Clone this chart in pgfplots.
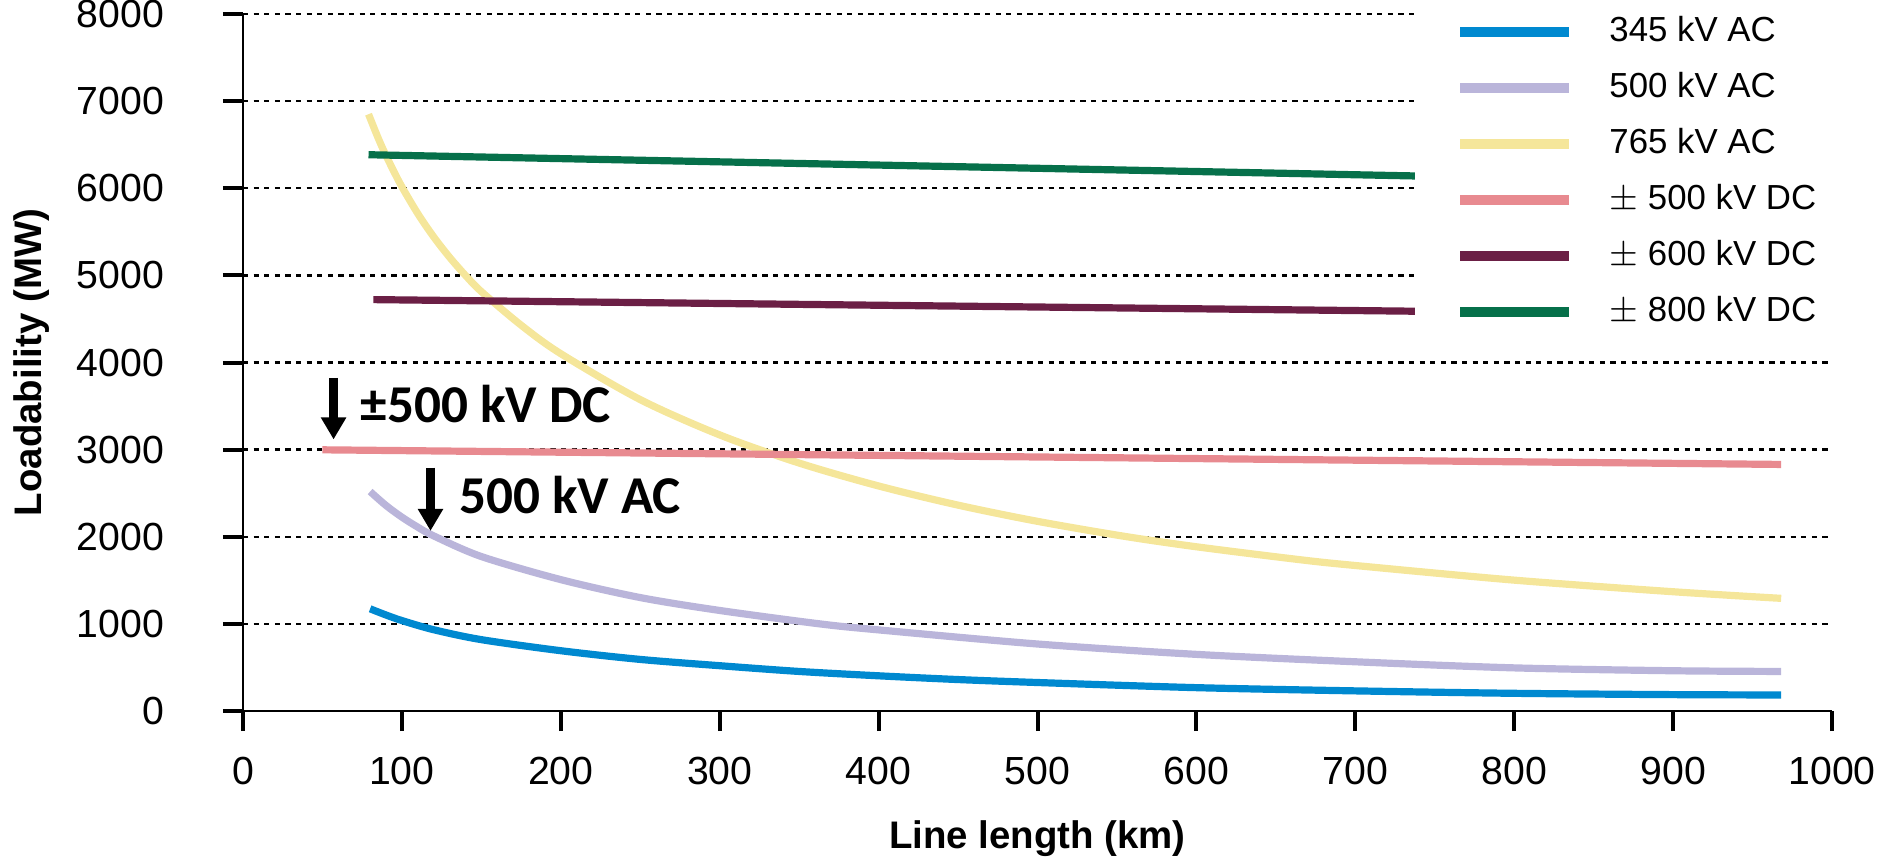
\documentclass[border=0pt]{standalone}
\usepackage{pgfplots}
\pgfplotsset{compat=1.18}
\usepackage{fontspec}
\setmainfont{Liberation Sans}
\newfontfamily\annfont{Carlito}
\usetikzlibrary{arrows.meta}
\definecolor{c345}{HTML}{0089D0}
\definecolor{c500}{HTML}{BAB5DA}
\definecolor{c765}{HTML}{F5E69A}
\definecolor{d500}{HTML}{E88A90}
\definecolor{d600}{HTML}{6B1F45}
\definecolor{d800}{HTML}{06704A}
\begin{document}
\begin{tikzpicture}
\begin{axis}[
  scale only axis, width=397.25pt, height=174.25pt,
  xmin=0, xmax=1000, ymin=0, ymax=8000,
  axis x line=bottom, axis y line=left,
  axis line style={-, line width=0.7pt, black},
  xtick={0,100,...,1000}, ytick={0,1000,...,8000},
  tick align=outside, major tick length=5pt,
  tick style={line width=1pt, black},
  ymajorgrids, grid style={black, line width=0.6pt, dash pattern=on 1.3pt off 1.35pt},
  /pgf/number format/assume math mode=true,
  /pgf/number format/1000 sep={},
  scaled ticks=false,
  tick label style={font=\fontsize{9.8}{11}\selectfont, text=black},
  yticklabel style={anchor=east, inner sep=0pt, xshift=-14.5pt},
  xticklabel style={anchor=north, inner sep=0pt, yshift=-6.4pt},
  xlabel={\bfseries Line length (km)},
  ylabel={\bfseries Loadability (MW)},
  label style={font=\fontsize{9.6}{11}\selectfont},
  xlabel style={at={(axis description cs:0.5,-0.1968)}, anchor=base},
  ylabel style={at={(axis description cs:-0.1328,0.5)}, anchor=center},
  no markers,
  legend image code/.code={\draw[#1, line width=2.6pt] (0pt,0pt) -- (27.25pt,0pt);},
  legend cell align=left,
  legend style={draw=none, fill=white, font=\fontsize{8.7}{10}\selectfont,
    at={(axis cs:740,8000)}, anchor=north west, inner xsep=10pt, inner ysep=4pt,
    xshift=-1.2pt, yshift=5.6pt, row sep=2.2pt,
    /tikz/every odd column/.append style={column sep=6.8pt}},
]
\addplot[c345, line width=1.8pt, smooth] coordinates {
(80,1173) (90,1102) (100,1038) (120,933) (150,819) (200,692) (250,592) (300,520)
(350,454) (400,404) (450,361) (500,327) (600,268) (700,231) (800,203) (900,188) (968,184)};
\addlegendentry{345 kV AC}
\addplot[c500, line width=1.8pt, smooth] coordinates {
(80,2519) (90,2359) (100,2225) (110,2110) (120,2010) (150,1773) (200,1508) (250,1302) (300,1154)
(363,1000) (400,931) (500,769) (600,650) (700,565) (800,495) (900,462) (968,454)};
\addlegendentry{500 kV AC}
\addplot[c765, line width=1.8pt, smooth] coordinates {
(79,6850) (85,6579) (90,6376) (99,6050) (110,5709) (120,5442) (130,5208) (140,5000)
(150,4814) (175,4429) (200,4101) (250,3574) (300,3169) (350,2846) (400,2583)
(450,2363) (500,2177) (554,2007) (600,1885) (665,1737) (700,1670) (800,1502)
(900,1369) (968,1293)};
\addlegendentry{765 kV AC}
\addplot[d500, line width=1.8pt] coordinates {(50,2998) (968,2830)};
\addlegendentry{$\pm$ 500 kV DC}
\addplot[d600, line width=1.8pt] coordinates {(82,4722) (741,4588)};
\addlegendentry{$\pm$ 600 kV DC}
\addplot[d800, line width=1.8pt] coordinates {(79,6385) (741,6140)};
\addlegendentry{$\pm$ 800 kV DC}
\draw[-{Triangle[width=6pt,length=5.5pt]}, line width=2.4pt] (axis cs:57,3825) -- (axis cs:57,3117);
\draw[-{Triangle[width=6pt,length=5.5pt]}, line width=2.4pt] (axis cs:118,2793) -- (axis cs:118,2067);
\node[anchor=base west, inner sep=0pt, font=\annfont\bfseries\fontsize{13.3}{15}\selectfont] at (axis cs:73.6,3312) {±500 kV DC};
\node[anchor=base west, inner sep=0pt, font=\annfont\bfseries\fontsize{13.3}{15}\selectfont] at (axis cs:135.6,2269) {500 kV AC};
\end{axis}
\pgfresetboundingbox
\path (-60.75pt,-36.25pt) rectangle (409.5pt,177.75pt);
\end{tikzpicture}
\end{document}
